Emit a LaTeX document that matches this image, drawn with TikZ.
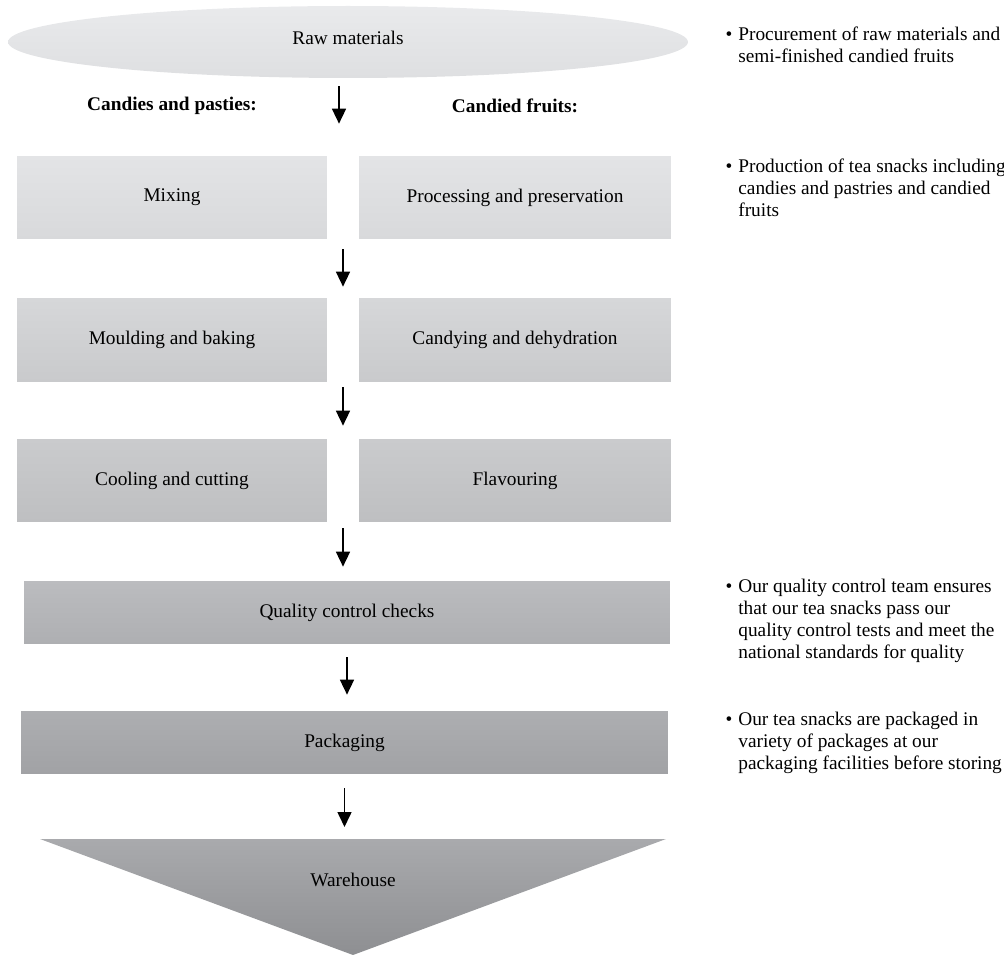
\documentclass[tikz,border=0pt]{standalone}
\usepackage{fontspec}
\setmainfont{Liberation Serif}
\usetikzlibrary{shapes.geometric}
\usetikzlibrary{arrows.meta}
\usetikzlibrary{calc}

\definecolor{shadea}{HTML}{E9EAEC}
\definecolor{shadeb}{HTML}{DEDFE1}
\definecolor{rowatop}{HTML}{E3E4E6}
\definecolor{rowabot}{HTML}{D8D9DB}
\definecolor{rowbtop}{HTML}{D6D7D9}
\definecolor{rowbbot}{HTML}{C9CACC}
\definecolor{rowctop}{HTML}{CACBCD}
\definecolor{rowcbot}{HTML}{BEBFC1}
\definecolor{qctop}{HTML}{BBBCBF}
\definecolor{qcbot}{HTML}{AEAFB2}
\definecolor{packtop}{HTML}{ADAEB1}
\definecolor{packbot}{HTML}{A1A2A5}
\definecolor{waretop}{HTML}{A9AAAD}
\definecolor{warebot}{HTML}{8E8F92}

\tikzset{
  box/.style={rectangle, inner sep=0pt, minimum height=1.66cm, font=\fontsize{11}{13}\selectfont},
  head/.style={inner sep=0pt, font=\bfseries\fontsize{11}{13}\selectfont},
  note/.style={anchor=north west, inner sep=0pt, align=left, font=\fontsize{11}{12.5}\selectfont},
  flow/.style={-{Triangle[length=0.3cm,width=0.28cm]}, line width=0.9pt}
}
\newcommand{\dotitem}{\llap{\textbullet\hspace{0.12cm}}}

\begin{document}
\begin{tikzpicture}[x=0.02cm, y=-0.02cm]
\useasboundingbox (0,0) rectangle (1004,955);

% raw materials
\node [ellipse, minimum width=13.6cm, minimum height=1.44cm, inner sep=0pt,
  top color=shadea, bottom color=shadeb] (raw) at (348,42) {};
\node [inner sep=0pt, font=\fontsize{11}{13}\selectfont] (rawtext) at (348,38) {Raw materials};

% the two product lines
\node [box, minimum width=6.2cm, top color=rowatop, bottom color=rowabot] (mix) at (172,197.5) {Mixing};
\node [box, minimum width=6.24cm, top color=rowatop, bottom color=rowabot] (proc) at (515,197.5) {Processing and preservation};
\node [box, minimum width=6.2cm, top color=rowbtop, bottom color=rowbbot] (mould) at (172,340) {Moulding and baking};
\node [box, minimum width=6.24cm, top color=rowbtop, bottom color=rowbbot] (candy) at (515,340) {Candying and dehydration};
\node [box, minimum width=6.2cm, top color=rowctop, bottom color=rowcbot] (cool) at (172,480.5) {Cooling and cutting};
\node [box, minimum width=6.24cm, top color=rowctop, bottom color=rowcbot] (flav) at (515,480.5) {Flavouring};

\node [head] (lineA) at (mix |- 0,106) {Candies and pasties:};
\node [head] (lineB) at (proc |- 0,106) {Candied fruits:};

% common steps
\node [box, minimum width=12.92cm, minimum height=1.26cm, top color=qctop, bottom color=qcbot] (qual) at (347,612.5) {Quality control checks};
\node [box, minimum width=12.94cm, minimum height=1.26cm, top color=packtop, bottom color=packbot] (pack) at (344.5,742.5) {Packaging};

\coordinate (wtl) at (40,839);
\coordinate (wtr) at (666,839);
\coordinate (wtip) at (353,955);
\shade [top color=waretop, bottom color=warebot] (wtl) -- (wtr) -- (wtip) -- cycle;
\node [inner sep=0pt, font=\fontsize{11}{13}\selectfont] (ware) at (353,880) {Warehouse};

% arrows in the gaps
\coordinate (g1) at ($(mix.north east)!0.5!(proc.north west)$);
\coordinate (g2) at ($(mix.south east)!0.5!(proc.south west)$);
\coordinate (g3) at ($(mould.south east)!0.5!(candy.south west)$);
\coordinate (g4) at ($(cool.south east)!0.5!(flav.south west)$);
\draw [flow, shorten <=0.16cm, shorten >=0.64cm] ([xshift=-0.08cm]g1 |- raw.south) -- ([xshift=-0.08cm]g1);
\draw [flow, shorten <=0.2cm, shorten >=0.23cm] (g2) -- (g2 |- mould.north);
\draw [flow, shorten <=0.11cm, shorten >=0.26cm] (g3) -- (g3 |- cool.north);
\draw [flow, shorten <=0.12cm, shorten >=0.28cm] (g4) -- (g4 |- qual.north);
\draw [flow, shorten <=0.26cm, shorten >=0.32cm] (qual.south) -- (qual.south |- pack.north);
\draw [flow, shorten <=0.28cm, shorten >=0.24cm] (pack.south) -- (pack.south |- wtl);

% notes on the right
\node [note] (n1) at (738,27) {\dotitem Procurement of raw materials and\\semi-finished candied fruits};
\node [note] (n2) at (738,159) {\dotitem Production of tea snacks including\\candies and pastries and candied\\fruits};
\node [note] (n3) at (738,579) {\dotitem Our quality control team ensures\\that our tea snacks pass our\\quality control tests and meet the\\national standards for quality};
\node [note] (n4) at (738,712) {\dotitem Our tea snacks are packaged in\\variety of packages at our\\packaging facilities before storing};
\end{tikzpicture}
\end{document}
